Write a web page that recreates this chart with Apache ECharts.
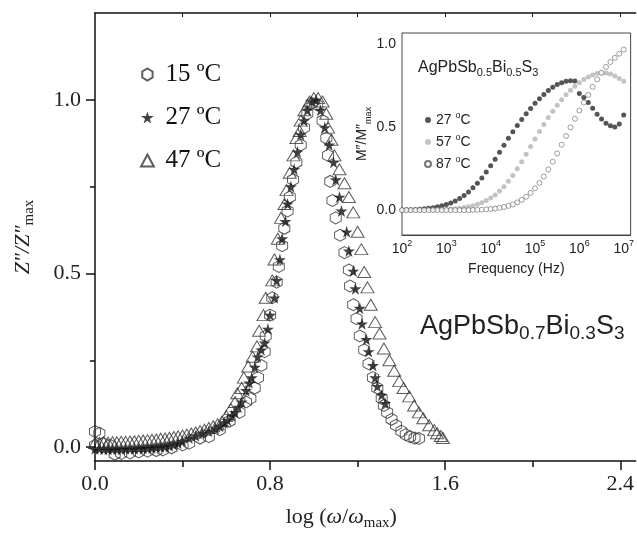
<!DOCTYPE html>
<html>
<head>
<meta charset="utf-8">
<title>Z''/Z''max vs log(w/wmax)</title>
<script src="https://cdn.jsdelivr.net/npm/echarts@6/dist/echarts.min.js"></script>
<style>
  html, body { margin: 0; padding: 0; background: #fff; }
  #chart { width: 637px; height: 536px; }
</style>
</head>
<body>
<div id="chart"></div>
<script>
// main plot: normalised Z'' against log(w/wmax)
var hexX = [0.00,0.00,0.02,0.04,0.07,0.09,0.12,0.16,0.20,0.24, 0.28,0.31,0.35,0.40,0.43,0.48,0.52,0.57,0.615,0.66,
  0.69,0.71,0.73,0.745,0.76,0.775,0.78,0.80,0.81,0.83, 0.84,0.855,0.865,0.88,0.89,0.905,0.92,0.94,0.955,0.97,
  0.99,1.015,1.04,1.057,1.065,1.075,1.085,1.10,1.12,1.14, 1.16,1.165,1.18,1.195,1.21,1.23,1.25,1.27,1.29,1.31,
  1.32,1.335,1.355,1.375,1.40,1.42,1.44,1.46,1.48];
var hexY = [0.045,0.005,0.040,0.010,0.005,-0.020,-0.018,-0.017,-0.014,-0.012, -0.010,-0.008,-0.002,0.006,0.011,0.026,0.030,0.050,0.075,0.100,
  0.130,0.140,0.170,0.200,0.235,0.275,0.320,0.380,0.430,0.475, 0.520,0.580,0.630,0.680,0.720,0.770,0.820,0.870,0.920,0.960,
  0.990,0.985,0.940,0.890,0.840,0.765,0.710,0.660,0.610,0.560, 0.510,0.464,0.410,0.370,0.320,0.280,0.240,0.200,0.170,0.140,
  0.120,0.100,0.080,0.063,0.046,0.036,0.030,0.026,0.025];

var starX = [0.00,0.02,0.04,0.06,0.08,0.10,0.12,0.14,0.16,0.18, 0.20,0.22,0.24,0.26,0.28,0.30,0.32,0.34,0.36,0.38,
  0.40,0.43,0.46,0.49,0.52,0.55,0.57,0.59,0.606,0.625, 0.64,0.655,0.67,0.69,0.705,0.716,0.73,0.743,0.76,0.775,
  0.79,0.80,0.82,0.83,0.845,0.855,0.87,0.88,0.895,0.91, 0.925,0.94,0.955,0.97,0.99,1.01,1.03,1.05,1.07,1.09,
  1.10,1.117,1.126,1.15,1.16,1.18,1.19,1.21,1.22,1.24, 1.25,1.27,1.28,1.29,1.31,1.326];
var starY = [-0.005,-0.005,-0.006,-0.006,-0.006,-0.006,-0.006,-0.005,-0.005,-0.005, -0.004,-0.004,-0.003,-0.002,-0.001,0.000,0.002,0.004,0.007,0.011,
  0.016,0.026,0.033,0.040,0.046,0.053,0.060,0.070,0.077,0.090, 0.100,0.115,0.130,0.163,0.185,0.200,0.230,0.260,0.280,0.300,
  0.340,0.380,0.430,0.480,0.540,0.600,0.650,0.700,0.750,0.800, 0.850,0.900,0.940,0.970,0.995,1.000,0.970,0.920,0.870,0.820,
  0.770,0.720,0.680,0.620,0.565,0.507,0.456,0.400,0.355,0.310, 0.275,0.235,0.200,0.175,0.150,0.126];

var triX = [0.00,0.02,0.04,0.06,0.08,0.10,0.12,0.14,0.16,0.18, 0.20,0.22,0.24,0.26,0.28,0.30,0.32,0.34,0.36,0.38,
  0.40,0.42,0.44,0.46,0.48,0.50,0.52,0.54,0.56,0.58, 0.60,0.62,0.64,0.65,0.67,0.68,0.70,0.72,0.74,0.75,
  0.77,0.78,0.81,0.82,0.835,0.85,0.866,0.875,0.89,0.907, 0.92,0.935,0.94,0.957,0.98,1.00,1.02,1.04,1.057,1.065,
  1.08,1.094,1.117,1.14,1.16,1.18,1.20,1.217,1.23,1.245, 1.26,1.28,1.30,1.32,1.345,1.367,1.39,1.41,1.436,1.458,
  1.48,1.50,1.527,1.55,1.563,1.58,1.59];
var triY = [0.012,0.012,0.013,0.013,0.014,0.014,0.015,0.015,0.016,0.017, 0.018,0.019,0.020,0.021,0.022,0.024,0.025,0.027,0.029,0.031,
  0.033,0.036,0.039,0.042,0.046,0.050,0.055,0.060,0.066,0.074, 0.090,0.110,0.130,0.155,0.170,0.200,0.232,0.260,0.290,0.335,
  0.380,0.430,0.480,0.540,0.600,0.660,0.700,0.740,0.790,0.840, 0.890,0.910,0.940,0.970,0.995,1.005,1.005,0.995,0.960,0.920,
  0.885,0.840,0.800,0.760,0.720,0.676,0.620,0.570,0.504,0.460, 0.410,0.360,0.327,0.284,0.250,0.220,0.190,0.170,0.146,0.120,
  0.100,0.083,0.063,0.049,0.040,0.032,0.026];

var mainNames = ['15 ºC', '27 ºC', '47 ºC'];
var mainXTicks = [0, 0.8, 1.6, 2.4];
var mainXMinor = [0.4, 1.2, 2.0];
var mainYTicks = [0, 0.5, 1.0];
var mainYMinor = [0.25, 0.75];

// inset: M''/M''max against frequency
var inFreq = [100,126,158,200,251,316,398,501,631,794,
  1000,1259,1585,1995,2512,3162,3981,5012,6310,7943,
  10000,12589,15849,19953,25119,31623,39811,50119,63096,79433,
  100000,125893,158489,199526,251189,316228,398107,501187,630957,794328,
  1000000,1258925,1584893,1995262,2511886,3162278,3981072,5011872,6309573,7943282,
  10000000];
var m27 = [0.001,0.002,0.003,0.004,0.006,0.008,0.011,0.015,0.020,0.026,
  0.034,0.044,0.056,0.071,0.089,0.110,0.135,0.163,0.195,0.230,
  0.268,0.308,0.350,0.392,0.434,0.474,0.512,0.548,0.582,0.614,
  0.645,0.673,0.699,0.722,0.742,0.759,0.770,0.778,0.782,0.780,
  0.705,0.680,0.650,0.615,0.580,0.550,0.525,0.510,0.502,0.520,
  0.575];
var m57 = [0.000,0.000,0.000,0.001,0.001,0.001,0.002,0.002,0.003,0.004,
  0.005,0.007,0.009,0.012,0.016,0.021,0.027,0.035,0.045,0.058,
  0.073,0.092,0.115,0.142,0.174,0.210,0.250,0.293,0.338,0.384,
  0.430,0.475,0.518,0.559,0.598,0.634,0.667,0.697,0.724,0.748,
  0.770,0.789,0.805,0.817,0.825,0.829,0.828,0.822,0.810,0.795,
  0.778];
var m87 = [0,0,0,0,0,0,0,0,0,0,
  0,0,0,0,0,0,0.001,0.002,0.003,0.005,
  0.007,0.010,0.014,0.019,0.026,0.035,0.047,0.062,0.081,0.104,
  0.132,0.165,0.203,0.246,0.293,0.343,0.395,0.448,0.500,0.552,
  0.602,0.650,0.696,0.745,0.790,0.830,0.865,0.895,0.920,0.945,
  0.970];
var inNames = ['27 °C', '57 °C', '87 °C'];
var inXTicks = [1e2, 1e3, 1e4, 1e5, 1e6, 1e7];
var inYTicks = [0, 0.25, 0.5, 0.75, 1.0];
var inYLabels = [0, 0.5, 1.0];

function zip(xs, ys) {
  return xs.map(function (x, i) { return [x, ys[i]]; });
}

// 2..9 x 10^n minor ticks for the log axis
var inXMinor = [];
for (var d = 100; d < 1e7; d *= 10) {
  for (var k = 2; k <= 9; k++) inXMinor.push(d * k);
}

var HEX = 'path://M50,0 L93,25 L93,75 L50,100 L7,75 L7,25 Z';
var STAR = 'path://M50,0 L61,35 L98,35 L68,57 L79,91 L50,70 L21,91 L32,57 L2,35 L39,35 Z';
var TRI = 'path://M50,4 L96,90 L4,90 Z';
var SERIF = 'Liberation Serif';
var SANS = 'Liberation Sans';

var chart = echarts.init(document.getElementById('chart'));

chart.setOption({
  animation: false,
  backgroundColor: '#fff',
  legend: [
    {
      data: [
        { name: mainNames[0], icon: HEX },
        { name: mainNames[1], icon: STAR },
        { name: mainNames[2], icon: TRI }
      ],
      orient: 'vertical',
      left: 135,
      top: 57,
      itemWidth: 26,
      itemHeight: 12,
      itemGap: 18,
      symbolKeepAspect: true,
      textStyle: { fontFamily: SERIF, fontSize: 25, color: '#111' }
    },
    {
      data: inNames,
      orient: 'vertical',
      left: 419,
      top: 106,
      itemWidth: 6,
      itemHeight: 6,
      itemGap: 4,
      formatter: function (name) { return name.replace('°', '{s|o}'); },
      textStyle: {
        fontFamily: SANS, fontSize: 14, color: '#222', lineHeight: 16,
        rich: { s: { fontFamily: SANS, fontSize: 9, verticalAlign: 'top', lineHeight: 18 } }
      }
    }
  ],
  grid: [
    { left: 95, top: 13, right: 0, bottom: 73, containLabel: false },
    { left: 402, top: 33, width: 232, height: 202, show: true, backgroundColor: '#fff',
      borderColor: '#444', borderWidth: 1, z: 3 }
  ],
  xAxis: [
    {
      gridIndex: 0, type: 'value', min: 0, max: 2.47, position: 'bottom',
      splitLine: { show: false },
      axisLine: { onZero: false, lineStyle: { color: '#111', width: 1.5 } },
      axisTick: { customValues: mainXTicks, length: 9, lineStyle: { color: '#111', width: 1.5 } },
      axisLabel: {
        customValues: mainXTicks, margin: 12,
        formatter: function (v) { return v.toFixed(1); },
        fontFamily: SERIF, fontSize: 22, color: '#222'
      },
      name: '{t|log (}{i|ω}{t|/}{i|ω}{s|max}{t|)}',
      nameLocation: 'middle',
      nameGap: 42,
      nameTextStyle: {
        padding: [0, 48, 0, 0],
        rich: {
          t: { fontFamily: SERIF, fontSize: 22, color: '#222', lineHeight: 28 },
          i: { fontFamily: SERIF, fontSize: 22, fontStyle: 'italic', color: '#222', lineHeight: 28 },
          s: { fontFamily: SERIF, fontSize: 15, color: '#222', verticalAlign: 'bottom', lineHeight: 15 }
        }
      }
    },
    {
      gridIndex: 0, type: 'value', min: 0, max: 2.47, position: 'bottom',
      splitLine: { show: false },
      axisLine: { show: false, onZero: false },
      axisTick: { customValues: mainXMinor, length: 6, lineStyle: { color: '#111', width: 1.5 } },
      axisLabel: { show: false }
    },
    {
      gridIndex: 0, type: 'value', min: 0, max: 2.47, position: 'top',
      splitLine: { show: false },
      axisLine: { onZero: false, lineStyle: { color: '#111', width: 1.5 } },
      axisTick: { inside: true, customValues: [0.4, 0.8, 1.2, 1.6, 2.0, 2.4], length: 4, lineStyle: { color: '#111' } },
      axisLabel: { show: false }
    },
    {
      gridIndex: 1, type: 'log', logBase: 10, min: 100, max: 14320000, position: 'bottom',
      splitLine: { show: false },
      axisLine: { onZero: false, lineStyle: { color: '#444', width: 1 } },
      axisTick: { inside: true, customValues: inXTicks, length: 5, lineStyle: { color: '#444' } },
      axisLabel: {
        customValues: inXTicks, margin: 4,
        formatter: function (v) { return '10{s|' + Math.round(Math.log10(v)) + '}'; },
        fontFamily: SANS, fontSize: 14, color: '#222', lineHeight: 20,
        rich: { s: { fontFamily: SANS, fontSize: 9, verticalAlign: 'top', lineHeight: 20, color: '#222' } }
      },
      name: 'Frequency (Hz)',
      nameLocation: 'middle',
      nameGap: 27,
      nameTextStyle: { fontFamily: SANS, fontSize: 14, color: '#222' }
    },
    {
      gridIndex: 1, type: 'log', logBase: 10, min: 100, max: 14320000, position: 'bottom',
      splitLine: { show: false },
      axisLine: { show: false, onZero: false },
      axisTick: { inside: true, customValues: inXMinor, length: 3, lineStyle: { color: '#444' } },
      axisLabel: { show: false }
    }
  ],
  yAxis: [
    {
      gridIndex: 0, type: 'value', min: -0.04, max: 1.25, position: 'left',
      splitLine: { show: false },
      axisLine: { onZero: false, lineStyle: { color: '#111', width: 1.5 } },
      axisTick: { customValues: mainYTicks, length: 9, lineStyle: { color: '#111', width: 1.5 } },
      axisLabel: {
        customValues: mainYTicks, margin: 14,
        formatter: function (v) { return v.toFixed(1); },
        fontFamily: SERIF, fontSize: 22, color: '#222'
      },
      name: '{i|Z″/Z″}{s|max}',
      nameLocation: 'middle',
      nameRotate: 90,
      nameGap: 58,
      nameTextStyle: {
        rich: {
          i: { fontFamily: SERIF, fontSize: 22, fontStyle: 'italic', color: '#222', lineHeight: 28 },
          s: { fontFamily: SERIF, fontSize: 15, color: '#222', verticalAlign: 'bottom', lineHeight: 15 }
        }
      }
    },
    {
      gridIndex: 0, type: 'value', min: -0.04, max: 1.25, position: 'left',
      splitLine: { show: false },
      axisLine: { show: false, onZero: false },
      axisTick: { customValues: mainYMinor, length: 5, lineStyle: { color: '#111', width: 1.5 } },
      axisLabel: { show: false }
    },
    {
      gridIndex: 1, type: 'value', min: -0.15, max: 1.07, position: 'left',
      splitLine: { show: false },
      axisLine: { onZero: false, lineStyle: { color: '#444', width: 1 } },
      axisTick: { inside: true, customValues: inYTicks, length: 4, lineStyle: { color: '#444' } },
      axisLabel: {
        customValues: inYLabels, margin: 6,
        formatter: function (v) { return v.toFixed(1); },
        fontFamily: SANS, fontSize: 14, color: '#222'
      },
      name: '{t|M″/M″}{s|max}',
      nameLocation: 'middle',
      nameRotate: 90,
      nameGap: 28,
      nameTextStyle: {
        rich: {
          t: { fontFamily: SANS, fontSize: 14, color: '#222', lineHeight: 20 },
          s: { fontFamily: SANS, fontSize: 9, color: '#222', verticalAlign: 'bottom', lineHeight: 9 }
        }
      }
    }
  ],
  series: [
    {
      name: mainNames[0], type: 'scatter', xAxisIndex: 0, yAxisIndex: 0,
      data: zip(hexX, hexY), symbol: HEX, symbolSize: [11, 12],
      itemStyle: { color: 'transparent', borderColor: '#333', borderWidth: 1 }
    },
    {
      name: mainNames[1], type: 'scatter', xAxisIndex: 0, yAxisIndex: 0,
      data: zip(starX, starY), symbol: STAR, symbolSize: 12,
      itemStyle: { color: '#111' }
    },
    {
      name: mainNames[2], type: 'scatter', xAxisIndex: 0, yAxisIndex: 0,
      data: zip(triX, triY), symbol: 'triangle', symbolSize: [13, 11],
      itemStyle: { color: 'transparent', borderColor: '#333', borderWidth: 1 }
    },
    {
      name: inNames[0], type: 'scatter', xAxisIndex: 3, yAxisIndex: 2, z: 4,
      data: zip(inFreq, m27), symbol: 'circle', symbolSize: 5,
      itemStyle: { color: '#2a2a2a' }
    },
    {
      name: inNames[1], type: 'scatter', xAxisIndex: 3, yAxisIndex: 2, z: 4,
      data: zip(inFreq, m57), symbol: 'circle', symbolSize: 5,
      itemStyle: { color: '#b4b4b4' }
    },
    {
      name: inNames[2], type: 'scatter', xAxisIndex: 3, yAxisIndex: 2, z: 4,
      data: zip(inFreq, m87), symbol: 'circle', symbolSize: 5,
      itemStyle: { color: '#fff', borderColor: '#555', borderWidth: 0.7 }
    }
  ],
  graphic: [
    {
      type: 'text', left: 418, top: 57, z: 10,
      style: {
        text: 'AgPbSb{s|0.5}Bi{s|0.5}S{s|3}',
        fontFamily: SANS, fontSize: 16, fill: '#222', lineHeight: 21,
        rich: { s: { fontFamily: SANS, fontSize: 11, fill: '#222', verticalAlign: 'bottom', lineHeight: 11 } }
      }
    },
    {
      type: 'text', left: 420, top: 310, z: 10,
      style: {
        text: 'AgPbSb{s|0.7}Bi{s|0.3}S{s|3}',
        fontFamily: SANS, fontSize: 27, fill: '#222', lineHeight: 33,
        rich: { s: { fontFamily: SANS, fontSize: 19, fill: '#222', verticalAlign: 'bottom', lineHeight: 19 } }
      }
    }
  ]
});
</script>
</body>
</html>
